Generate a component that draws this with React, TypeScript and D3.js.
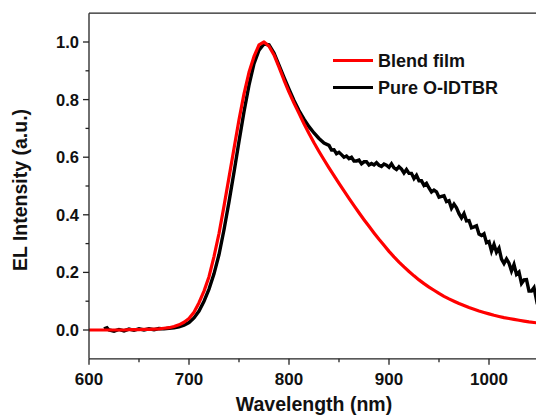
import React from "react";
import * as d3 from "d3";

const redWl: number[] = [600, 605, 610, 615, 620, 625, 630, 635, 640, 645, 650, 655, 660, 665, 670, 675, 680, 685, 690, 695, 700, 705, 710, 715, 720, 725, 730, 735, 740, 745, 750, 755, 760, 765, 770, 775, 780, 785, 790, 795, 800, 805, 810, 815, 820, 825, 830, 835, 840, 845, 850, 855, 860, 865, 870, 875, 880, 885, 890, 895, 900, 905, 910, 915, 920, 925, 930, 935, 940, 945, 950, 955, 960, 965, 970, 975, 980, 985, 990, 995, 1000, 1005, 1010, 1015, 1020, 1025, 1030, 1035, 1040, 1045, 1050];
const redVal: number[] = [0, 0, 0, 0, 0, 0, 0, 0, 0.001, 0.001, 0.001, 0.002, 0.002, 0.003, 0.004, 0.006, 0.008, 0.012, 0.018, 0.027, 0.04, 0.062, 0.095, 0.135, 0.185, 0.255, 0.335, 0.43, 0.53, 0.63, 0.73, 0.82, 0.895, 0.95, 0.99, 1.0, 0.985, 0.955, 0.913, 0.868, 0.826, 0.788, 0.752, 0.716, 0.682, 0.65, 0.62, 0.591, 0.563, 0.536, 0.509, 0.483, 0.457, 0.432, 0.407, 0.383, 0.36, 0.337, 0.315, 0.294, 0.273, 0.254, 0.236, 0.219, 0.203, 0.188, 0.174, 0.161, 0.149, 0.138, 0.127, 0.117, 0.108, 0.1, 0.092, 0.085, 0.078, 0.072, 0.066, 0.061, 0.056, 0.051, 0.047, 0.043, 0.04, 0.037, 0.034, 0.031, 0.028, 0.026, 0.024];

const blackWl: number[] = [615, 618, 620, 625, 630, 635, 640, 645, 650, 655, 660, 665, 670, 675, 680, 685, 690, 695, 700, 705, 710, 715, 720, 725, 730, 735, 740, 745, 750, 755, 760, 765, 770, 775, 780, 785, 790, 795, 800, 805, 810, 815, 820, 825, 830, 835, 840, 842.5, 845, 847.5, 850, 852.5, 855, 857.5, 860, 862.5, 865, 867.5, 870, 872.5, 875, 877.5, 880, 882.5, 885, 887.5, 890, 892.5, 895, 897.5, 900, 902.5, 905, 907.5, 910, 912.5, 915, 917.5, 920, 922.5, 925, 927.5, 930, 932.5, 935, 937.5, 940, 942.5, 945, 947.5, 950, 952.5, 955, 957.5, 960, 962.5, 965, 967.5, 970, 972.5, 975, 977.5, 980, 982.5, 985, 987.5, 990, 992.5, 995, 997.5, 1000, 1002.5, 1005, 1007.5, 1010, 1012.5, 1015, 1017.5, 1020, 1022.5, 1025, 1027.5, 1030, 1032.5, 1035, 1037.5, 1040, 1042.5, 1045, 1047.5, 1050];
const blackVal: number[] = [0.004, 0.008, 0.0, -0.004, 0.002, -0.003, 0.003, -0.001, 0.004, 0.0, 0.004, 0.001, 0.005, 0.004, 0.006, 0.008, 0.011, 0.017, 0.026, 0.042, 0.066, 0.1, 0.142, 0.195, 0.262, 0.348, 0.445, 0.548, 0.655, 0.758, 0.85, 0.925, 0.972, 0.993, 0.99, 0.962, 0.92, 0.877, 0.836, 0.797, 0.762, 0.732, 0.706, 0.684, 0.665, 0.649, 0.641, 0.625, 0.626, 0.612, 0.617, 0.609, 0.6, 0.604, 0.595, 0.6, 0.587, 0.587, 0.59, 0.577, 0.584, 0.584, 0.573, 0.578, 0.573, 0.581, 0.572, 0.568, 0.576, 0.572, 0.565, 0.577, 0.563, 0.557, 0.567, 0.559, 0.545, 0.557, 0.544, 0.544, 0.526, 0.537, 0.518, 0.518, 0.502, 0.509, 0.493, 0.479, 0.486, 0.48, 0.461, 0.464, 0.466, 0.446, 0.449, 0.423, 0.437, 0.424, 0.404, 0.389, 0.404, 0.379, 0.38, 0.355, 0.358, 0.362, 0.333, 0.328, 0.334, 0.303, 0.307, 0.274, 0.297, 0.27, 0.284, 0.246, 0.231, 0.247, 0.232, 0.205, 0.227, 0.193, 0.201, 0.162, 0.174, 0.175, 0.135, 0.135, 0.147, 0.104, 0.119];

const xTicks: number[] = [600, 700, 800, 900, 1000];
const xMinorTicks: number[] = [650, 750, 850, 950, 1050];
const yTicks: number[] = [0, 0.2, 0.4, 0.6, 0.8, 1.0];
const yMinorTicks: number[] = [0.1, 0.3, 0.5, 0.7, 0.9];
const seriesNames: string[] = ["Blend film", "Pure O-IDTBR"];
const seriesColors: string[] = ["#ff0000", "#000000"];

const W = 536;
const H = 418;
const FONT = "Liberation Sans, Arial, sans-serif";

export default function App() {
  const x = d3.scaleLinear().domain([600, 1050]).range([89, 539]);
  const y = d3.scaleLinear().domain([-0.1, 1.1]).range([358.8, 13.2]);
  const line = d3
    .line<[number, number]>()
    .x((d) => x(d[0]))
    .y((d) => y(d[1]));
  const redPts: [number, number][] = redWl.map((w, i) => [w, redVal[i]]);
  const blackPts: [number, number][] = blackWl.map((w, i) => [w, blackVal[i]]);
  const [x0, x1] = x.range();
  const [y0, y1] = y.range();

  return (
    <svg
      width={W}
      height={H}
      style={{ position: "absolute", left: 0, top: 0, background: "#fff" }}
      fontFamily={FONT}
    >
      <defs>
        <clipPath id="plot">
          <rect x={x0} y={y1} width={x1 - x0} height={y0 - y1} />
        </clipPath>
      </defs>
      <rect x={0} y={0} width={W} height={H} fill="#fff" />
      <g clipPath="url(#plot)" fill="none" strokeLinejoin="miter" strokeLinecap="butt">
        <path d={line(blackPts) || ""} stroke={seriesColors[1]} strokeWidth={3.4} />
        <path d={line(redPts) || ""} stroke={seriesColors[0]} strokeWidth={3.2} strokeLinejoin="round" />
      </g>
      {/* axes */}
      <line x1={x0} x2={x0} y1={y1} y2={y0} stroke="#222" strokeWidth={1.3} />
      <line x1={x0} x2={x1} y1={y0} y2={y0} stroke="#222" strokeWidth={1.3} />
      <line x1={x0} x2={x1} y1={y1} y2={y1} stroke="#222" strokeWidth={1.3} />
      {yTicks.map((t) => (
        <g key={"y" + t}>
          <line x1={x0 - 6} x2={x0} y1={y(t)} y2={y(t)} stroke="#222" strokeWidth={1.3} />
          <text
            x={x0 - 10}
            y={y(t)}
            dy="0.36em"
            textAnchor="end"
            fontSize={16.5}
            fontWeight="bold"
            fill="#111"
          >
            {t.toFixed(1)}
          </text>
        </g>
      ))}
      {yMinorTicks.map((t) => (
        <line key={"ym" + t} x1={x0 - 3.5} x2={x0} y1={y(t)} y2={y(t)} stroke="#222" strokeWidth={1.3} />
      ))}
      {xTicks.map((t) => (
        <g key={"x" + t}>
          <line x1={x(t)} x2={x(t)} y1={y0} y2={y0 + 6} stroke="#222" strokeWidth={1.3} />
          <text
            x={x(t)}
            y={385}
            textAnchor="middle"
            fontSize={17}
            fontWeight="bold"
            fill="#111"
          >
            {t}
          </text>
        </g>
      ))}
      {xMinorTicks.map((t) => (
        <line key={"xm" + t} x1={x(t)} x2={x(t)} y1={y0} y2={y0 + 3.5} stroke="#222" strokeWidth={1.3} />
      ))}
      <text x={314} y={411} textAnchor="middle" fontSize={19.5} fontWeight="bold" fill="#111">
        Wavelength (nm)
      </text>
      <text
        transform={`translate(27,${190})rotate(-90)`}
        textAnchor="middle"
        fontSize={19.5}
        fontWeight="bold"
        fill="#111"
      >
        EL Intensity (a.u.)
      </text>
      {/* legend */}
      {seriesNames.map((n, i) => (
        <g key={n} transform={`translate(333,${60.5 + i * 27})`}>
          <line x1={0} x2={40} y1={0} y2={0} stroke={seriesColors[i]} strokeWidth={3.2} />
          <text x={45} y={0} dy="0.36em" fontSize={18} fontWeight="bold" fill="#111">
            {n}
          </text>
        </g>
      ))}
    </svg>
  );
}
